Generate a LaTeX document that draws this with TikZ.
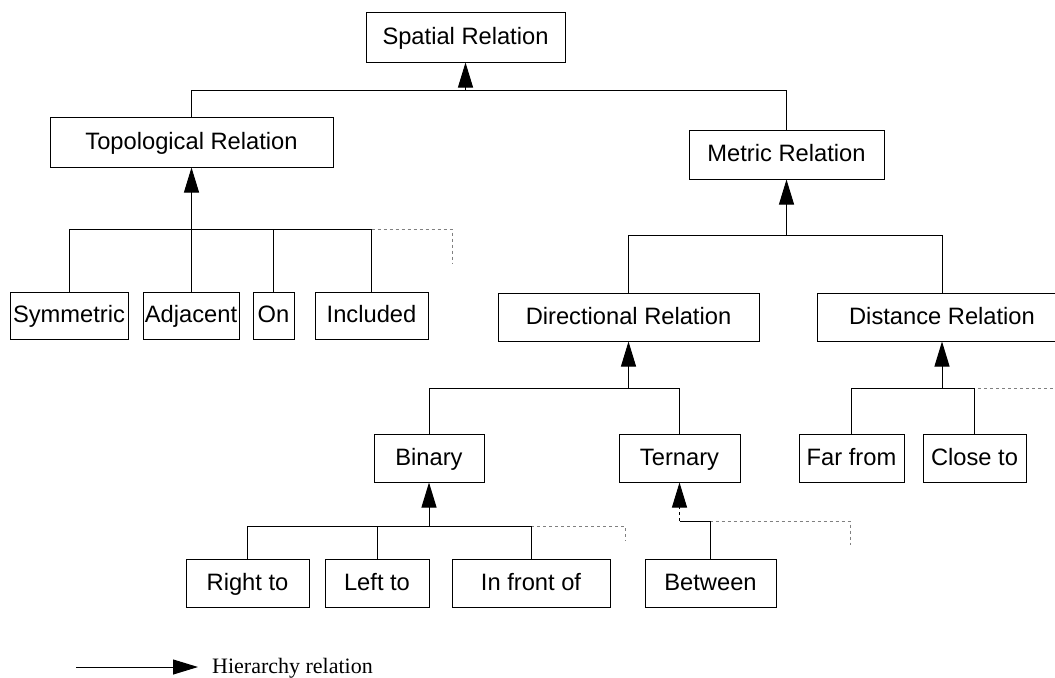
\documentclass[tikz,border=0pt]{standalone}
\usepackage{fontspec}
\setmainfont{Liberation Serif}
\setsansfont{Liberation Sans}
\usetikzlibrary{arrows.meta}

\begin{document}
\begin{tikzpicture}[x=0.5pt, y=0.5pt, line width=0.5pt,
	rel/.style={draw, rectangle, inner sep=0pt, minimum height=24pt, text height=0.72em, text depth=0pt,
		font=\sffamily\fontsize{11.85}{14}\selectfont},
	isa/.style={-{Triangle[length=12.5pt,width=7.5pt]}},
	more/.style={gray, dash pattern=on 1.5pt off 1.5pt}]
	\useasboundingbox (0,0) rectangle (1055,-677);

	% boxes
	\node[rel, name=spatial, minimum width=99.5pt, minimum height=25pt] at (465.5,-37) {Spatial Relation};
	\node[rel, name=topo, minimum width=141.5pt, minimum height=25pt] at (191.5,-142) {Topological Relation};
	\node[rel, name=metric, minimum width=97.5pt, minimum height=24.5pt] at (786.5,-154.5) {Metric Relation};
	\node[rel, name=sym, minimum width=59pt, minimum height=23.5pt] at (69,-315.5) {Symmetric};
	\node[rel, name=adj, minimum width=48pt, minimum height=23.5pt] at (191,-315.5) {Adjacent};
	\node[rel, name=on, minimum width=20.5pt, minimum height=23.5pt] at (273.5,-315.5) {On};
	\node[rel, name=incl, minimum width=56.5pt, minimum height=23.5pt] at (371.5,-315.5) {Included};
	\node[rel, name=dir, minimum width=130.5pt] at (628.5,-317) {Directional Relation};
	\node[rel, name=dist, minimum width=125pt] at (942,-317) {Distance Relation};
	\node[rel, name=binary, minimum width=55pt] at (429,-458) {Binary};
	\node[rel, name=ternary, minimum width=60.5pt] at (679.5,-458) {Ternary};
	\node[rel, name=far, minimum width=52.5pt] at (851.5,-458.5) {Far from};
	\node[rel, name=close, minimum width=51.5pt] at (974.5,-458.5) {Close to};
	\node[rel, name=right, minimum width=61.5pt] at (247.5,-583) {Right to};
	\node[rel, name=left, minimum width=52pt] at (377,-583) {Left to};
	\node[rel, name=front, minimum width=79pt] at (531,-583) {In front of};
	\node[rel, name=between, minimum width=65.5pt] at (710.5,-583) {Between};

	% junctions under each parent
	\coordinate (spatialbus) at (465.5,-90);
	\coordinate (topobus) at (191.5,-229);
	\coordinate (metricbus) at (786.5,-235);
	\coordinate (dirbus) at (628.5,-388);
	\coordinate (distbus) at (942,-388);
	\coordinate (binbus) at (429,-526);
	\coordinate (ternbus) at (679.5,-521);
	% open ends (more children)
	\coordinate (topoend) at (452,-263);
	\coordinate (binend) at (625,-541);
	\coordinate (ternend) at (850,-545);
	\coordinate (distend) at (1060,-388);

	\draw[more] (topobus) -| (topoend);
	\draw[more] (binbus) -| (binend);
	\draw[more] (ternbus) -| (ternend);
	\draw[more] (distbus) -- (distend);

	\foreach \c in {topo,metric} \draw (\c.north) |- (spatialbus);
	\foreach \c in {sym,adj,on,incl} \draw (\c.north) |- (topobus);
	\foreach \c in {dir,dist} \draw (\c.north) |- (metricbus);
	\foreach \c in {binary,ternary} \draw (\c.north) |- (dirbus);
	\foreach \c in {far,close} \draw (\c.north) |- (distbus);
	\foreach \c in {right,left,front} \draw (\c.north) |- (binbus);
	\draw (between.north) |- (ternbus);

	\draw[isa] (spatialbus) -- (spatial.south);
	\draw[isa] (topobus) -- (topo.south);
	\draw[isa] (metricbus) -- (metric.south);
	\draw[isa] (dirbus) -- (dir.south);
	\draw[isa] (distbus) -- (dist.south);
	\draw[isa] (binbus) -- (binary.south);
	\draw[isa, dash pattern=on 1.5pt off 1.5pt] (ternbus) -- (ternary.south);

	% legend
	\coordinate (keyfrom) at (76,-667);
	\coordinate (keyto) at (198,-667);
	\draw[isa] (keyfrom) -- (keyto);
	\node[anchor=base west, name=key, font=\fontsize{11}{13}\selectfont] at (205,-673) {Hierarchy relation};
\end{tikzpicture}
\end{document}
